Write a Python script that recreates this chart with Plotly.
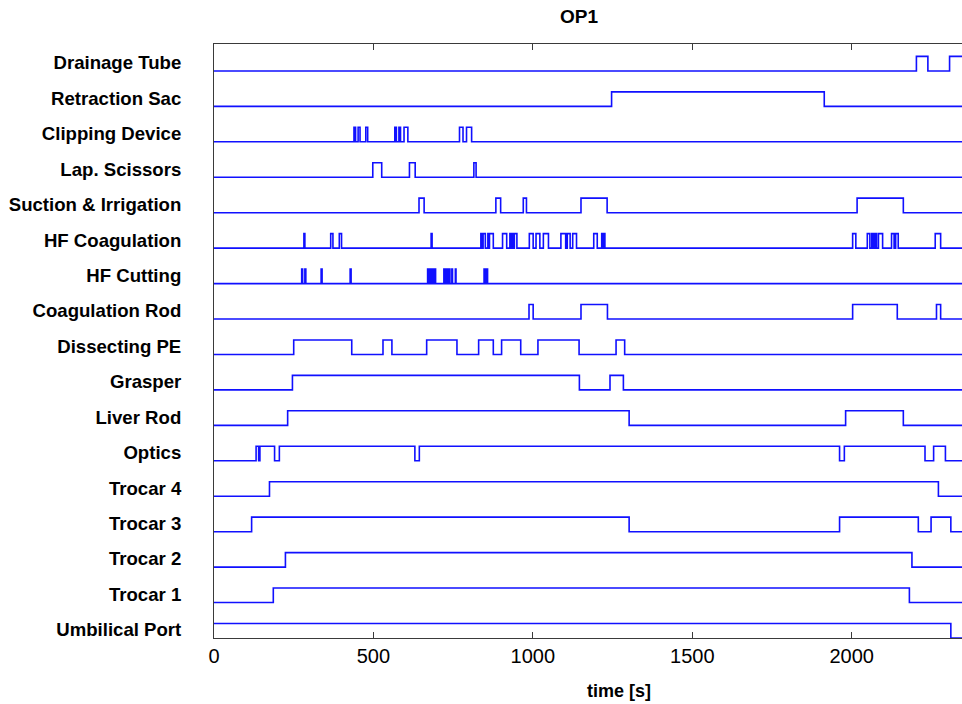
import plotly.graph_objects as go

# Instrument usage during the operation: (start, end) in seconds of each active phase.
T_END = 2400  # end of the recorded signal

drainage_tube = [(2203, 2239), (2307, T_END)]
retraction_sac = [(1247, 1914)]
clipping_device = [(439, 444), (452, 458), (476, 482), (567, 572), (580, 585),
                   (596, 608), (770, 781), (792, 808)]
lap_scissors = [(498, 526), (613, 631), (815, 822)]
suction_irrigation = [(643, 659), (884, 899), (970, 980), (1151, 1233), (2017, 2162)]
hf_coagulation = [(282, 285), (366, 373), (393, 400), (681, 684), (837, 842),
                  (844, 851), (859, 862), (864, 876), (905, 918), (928, 933),
                  (937, 940), (942, 950), (989, 1001), (1010, 1022), (1033, 1049),
                  (1088, 1103), (1108, 1117), (1125, 1137), (1191, 1202), (1216, 1219),
                  (1222, 1226), (2003, 2013), (2049, 2057), (2063, 2068), (2073, 2078),
                  (2084, 2097), (2125, 2133), (2138, 2146), (2262, 2279)]
hf_cutting = [(275, 278), (285, 288), (336, 339), (427, 430), (670, 673), (675, 678),
              (681, 684), (686, 689), (691, 695), (721, 724), (726, 729), (731, 734),
              (736, 740), (746, 748), (757, 759), (847, 850), (852, 855), (856, 858)]
coagulation_rod = [(988, 1001), (1151, 1234), (2003, 2143), (2266, 2279)]
dissecting_pe = [(250, 432), (530, 558), (667, 762), (830, 876), (902, 962),
                 (1016, 1145), (1261, 1288)]
grasper = [(246, 1146), (1242, 1284)]
liver_rod = [(231, 1302), (1981, 2162)]
optics = [(132, 140), (144, 190), (205, 630), (644, 1962), (1977, 2230), (2257, 2294)]
trocar_4 = [(174, 2272)]
trocar_3 = [(118, 1302), (1962, 2209), (2249, 2311)]
trocar_2 = [(224, 2189)]
trocar_1 = [(186, 2181)]
umbilical_port = [(0, 2311)]

# Bottom-to-top order of the rows
labels = ["Umbilical Port", "Trocar 1", "Trocar 2", "Trocar 3", "Trocar 4", "Optics",
          "Liver Rod", "Grasper", "Dissecting PE", "Coagulation Rod", "HF Cutting",
          "HF Coagulation", "Suction & Irrigation", "Lap. Scissors", "Clipping Device",
          "Retraction Sac", "Drainage Tube"]
signals = [umbilical_port, trocar_1, trocar_2, trocar_3, trocar_4, optics,
           liver_rod, grasper, dissecting_pe, coagulation_rod, hf_cutting,
           hf_coagulation, suction_irrigation, lap_scissors, clipping_device,
           retraction_sac, drainage_tube]

x_ticks = [0, 500, 1000, 1500, 2000]

LEVEL = 0.41  # height of the "active" level above each row's baseline
BLUE = "#1010ff"
AXIS = "#3a3a3a"
FONT = "Liberation Sans, Arial, sans-serif"


def step_series(intervals, base):
    xs, ys = [0], [base]
    for start, end in intervals:
        if start == 0:
            ys[0] = base + LEVEL
        else:
            xs.append(start)
            ys.append(base + LEVEL)
        xs.append(end)
        ys.append(base)
    if xs[-1] < T_END:
        xs.append(T_END)
        ys.append(ys[-1])
    return xs, ys


fig = go.Figure()
for row, (name, intervals) in enumerate(zip(labels, signals)):
    xs, ys = step_series(intervals, row)
    fig.add_trace(go.Scatter(
        x=xs, y=ys, mode="lines", name=name,
        line=dict(color=BLUE, width=1.6, shape="hv"),
        showlegend=False, hoverinfo="skip",
    ))

fig.update_layout(
    width=962, height=704,
    margin=dict(l=214, r=0, t=44, b=66),
    paper_bgcolor="white", plot_bgcolor="white",
    font=dict(family=FONT, color="black"),
    xaxis=dict(
        range=[0, 2346], tickvals=x_ticks, ticktext=[str(v) for v in x_ticks],
        ticks="inside", ticklen=6, tickwidth=1, tickcolor=AXIS,
        showline=True, linecolor=AXIS, linewidth=1, mirror="ticks",
        showgrid=False, zeroline=False,
        tickfont=dict(family=FONT, size=20, color="black"),
    ),
    yaxis=dict(
        range=[0, 16.76], tickvals=[i + 0.23 for i in range(len(labels))],
        ticktext=labels, ticks="", showline=True, linecolor=AXIS, linewidth=1,
        mirror=False, showgrid=False, zeroline=False, ticklabelstandoff=28,
        tickfont=dict(family=FONT, size=18.6, color="black", weight="bold"),
    ),
    annotations=[
        dict(text="OP1", xref="paper", yref="paper", x=0.488, y=1.0455,
             xanchor="center", yanchor="middle", showarrow=False,
             font=dict(family=FONT, size=19, color="black", weight="bold")),
        dict(text="time [s]", xref="paper", yref="paper", x=0.541, y=-0.0887,
             xanchor="center", yanchor="middle", showarrow=False,
             font=dict(family=FONT, size=18, color="black", weight="bold")),
    ],
)

fig.write_html("out.html")
